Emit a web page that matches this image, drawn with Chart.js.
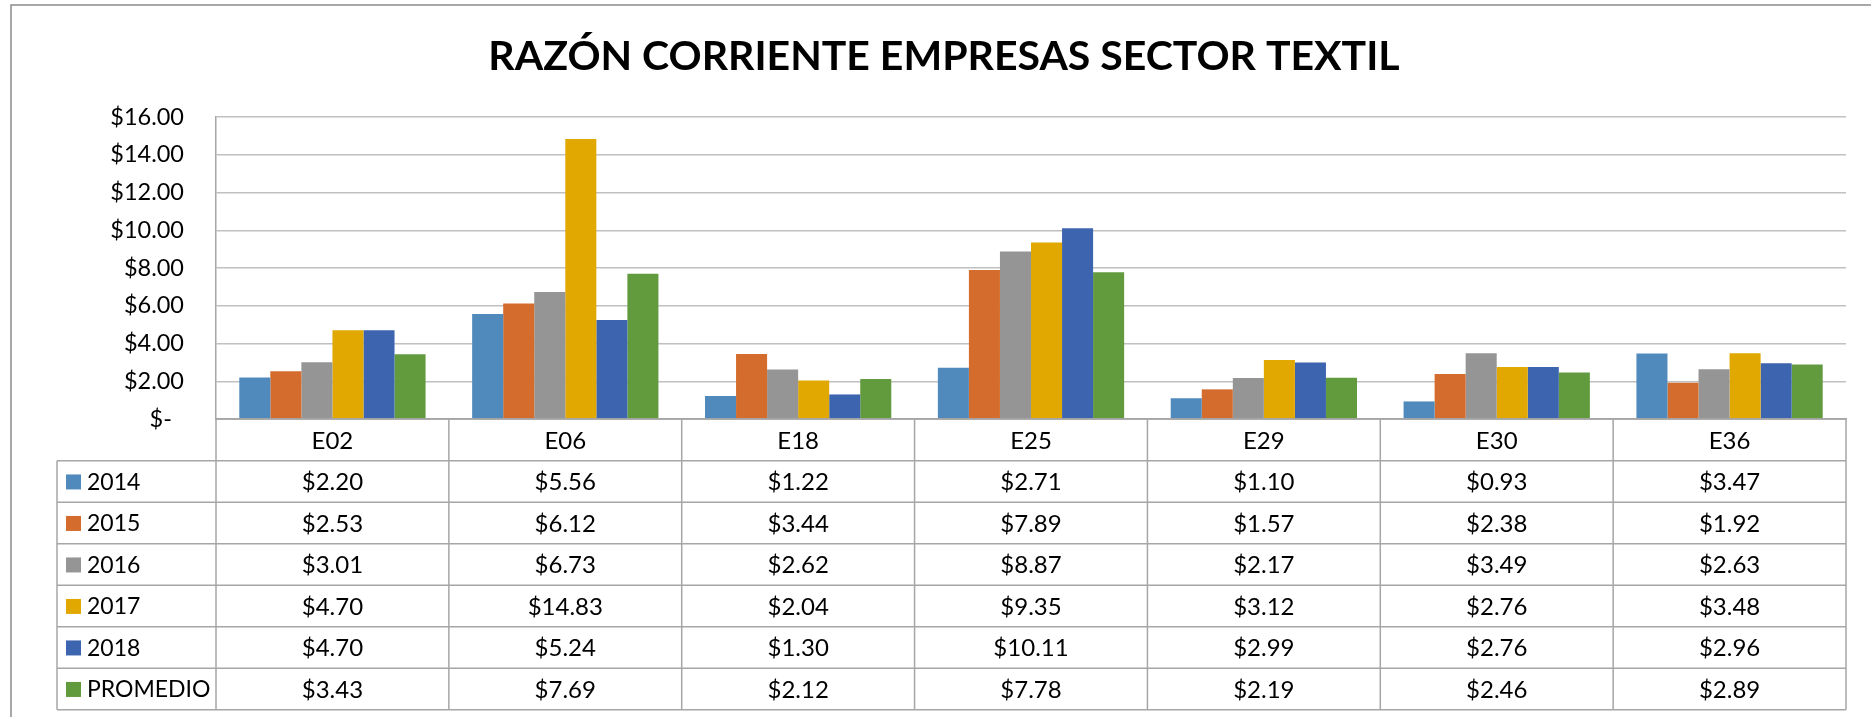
<!DOCTYPE html>
<html>
<head>
<meta charset="utf-8">
<script src="https://cdn.jsdelivr.net/npm/chart.js@4.4.1/dist/chart.umd.min.js"></script>
<style>
  html, body { margin: 0; padding: 0; background: #ffffff; }
  #wrap { position: relative; width: 1871px; height: 717px; }
  canvas { display: block; }
</style>
</head>
<body>
<div id="wrap"><canvas id="c" width="1871" height="717"></canvas></div>
<script>
const chartTitle = 'RAZÓN CORRIENTE EMPRESAS SECTOR TEXTIL';
const categories = ['E02', 'E06', 'E18', 'E25', 'E29', 'E30', 'E36'];
const seriesNames = ['2014', '2015', '2016', '2017', '2018', 'PROMEDIO'];
const v2014 = [2.20, 5.56, 1.22, 2.71, 1.10, 0.93, 3.47];
const v2015 = [2.53, 6.12, 3.44, 7.89, 1.57, 2.38, 1.92];
const v2016 = [3.01, 6.73, 2.62, 8.87, 2.17, 3.49, 2.63];
const v2017 = [4.70, 14.83, 2.04, 9.35, 3.12, 2.76, 3.48];
const v2018 = [4.70, 5.24, 1.30, 10.11, 2.99, 2.76, 2.96];
const vProm = [3.43, 7.69, 2.12, 7.78, 2.19, 2.46, 2.89];
const yTicks = [0, 2, 4, 6, 8, 10, 12, 14, 16];

const seriesValues = [v2014, v2015, v2016, v2017, v2018, vProm];
const colors = ['#508ABD', '#D36C2C', '#959595', '#E0A800', '#3D64AE', '#629A3E'];

const FONT = 'Lato, "Noto Sans", sans-serif';
const fmt = v => '$' + v.toFixed(2);

const tablePlugin = {
  id: 'dataTable',
  afterLayout(chart) {
    if (chart.titleBlock) {
      chart.titleBlock.left = 17;
      chart.titleBlock.right = 1871;
    }
  },
  afterDraw(chart) {
    const ctx = chart.ctx;
    const x = chart.scales.x;
    const area = chart.chartArea;
    const n = categories.length;
    const bounds = [];
    for (let i = 0; i <= n; i++) {
      if (i === 0) bounds.push(area.left);
      else if (i === n) bounds.push(area.right);
      else bounds.push((x.getPixelForValue(i - 1) + x.getPixelForValue(i)) / 2);
    }
    const top = area.bottom;
    const headerH = 41.7;
    const rowH = 41.5;
    const legendLeft = 57;
    const rowsTop = top + headerH;
    const bottom = rowsTop + rowH * seriesNames.length;

    ctx.save();
    ctx.strokeStyle = '#A6A6A6';
    ctx.lineWidth = 1.5;
    ctx.beginPath();
    for (let i = 0; i <= n; i++) {
      ctx.moveTo(bounds[i], top);
      ctx.lineTo(bounds[i], bottom);
    }
    ctx.moveTo(legendLeft, rowsTop);
    ctx.lineTo(legendLeft, bottom);
    ctx.moveTo(area.left, top);
    ctx.lineTo(area.right, top);
    for (let r = 0; r <= seriesNames.length; r++) {
      const y = rowsTop + r * rowH;
      ctx.moveTo(legendLeft, y);
      ctx.lineTo(area.right, y);
    }
    ctx.stroke();

    ctx.fillStyle = '#000000';
    ctx.textBaseline = 'middle';
    ctx.textAlign = 'center';
    ctx.font = '24px ' + FONT;
    for (let i = 0; i < n; i++) {
      ctx.fillText(categories[i], x.getPixelForValue(i), top + headerH / 2 + 1);
    }
    for (let r = 0; r < seriesNames.length; r++) {
      const cy = rowsTop + r * rowH + rowH / 2 + 1;
      ctx.fillStyle = colors[r];
      ctx.fillRect(66, cy - 8, 15, 15);
      ctx.fillStyle = '#000000';
      ctx.textAlign = 'left';
      ctx.font = '23px ' + FONT;
      ctx.fillText(seriesNames[r], 87, cy);
      ctx.textAlign = 'center';
      ctx.font = '24px ' + FONT;
      for (let i = 0; i < n; i++) {
        ctx.fillText(fmt(seriesValues[r][i]), x.getPixelForValue(i), cy);
      }
    }

    ctx.strokeStyle = '#8C8C8C';
    ctx.lineWidth = 1.5;
    ctx.beginPath();
    ctx.moveTo(11, 717);
    ctx.lineTo(11, 5);
    ctx.lineTo(1871, 5);
    ctx.stroke();
    ctx.restore();
  }
};

new Chart(document.getElementById('c'), {
  type: 'bar',
  data: {
    labels: categories,
    datasets: seriesNames.map((name, i) => ({
      label: name,
      data: seriesValues[i],
      backgroundColor: colors[i],
      borderWidth: 0,
      barPercentage: 1.0,
      categoryPercentage: 0.8
    }))
  },
  options: {
    responsive: false,
    animation: false,
    layout: { padding: { top: 0, left: 11, right: 25, bottom: 298 } },
    plugins: {
      legend: { display: false },
      tooltip: { enabled: false },
      title: {
        display: true,
        text: chartTitle,
        color: '#000000',
        font: { family: FONT, size: 41, weight: 'bold', lineHeight: 1.2 },
        padding: { top: 32, bottom: 35.8 }
      }
    },
    scales: {
      x: {
        display: true,
        grid: { display: false, drawTicks: false },
        ticks: { display: false },
        border: { display: true, color: '#A6A6A6', width: 1.5 }
      },
      y: {
        min: 0,
        max: 16,
        afterBuildTicks(scale) { scale.ticks = yTicks.map(v => ({ value: v })); },
        afterFit(scale) { scale.width = 205; },
        grid: { color: '#C0C0C0', lineWidth: 1.5, drawTicks: false },
        border: { display: true, color: '#A6A6A6', width: 1.5 },
        ticks: {
          padding: 32,
          color: '#000000',
          font: { family: FONT, size: 23.5 },
          callback: v => v === 0 ? '$-  ' : fmt(v)
        }
      }
    }
  },
  plugins: [tablePlugin]
});
</script>
</body>
</html>
